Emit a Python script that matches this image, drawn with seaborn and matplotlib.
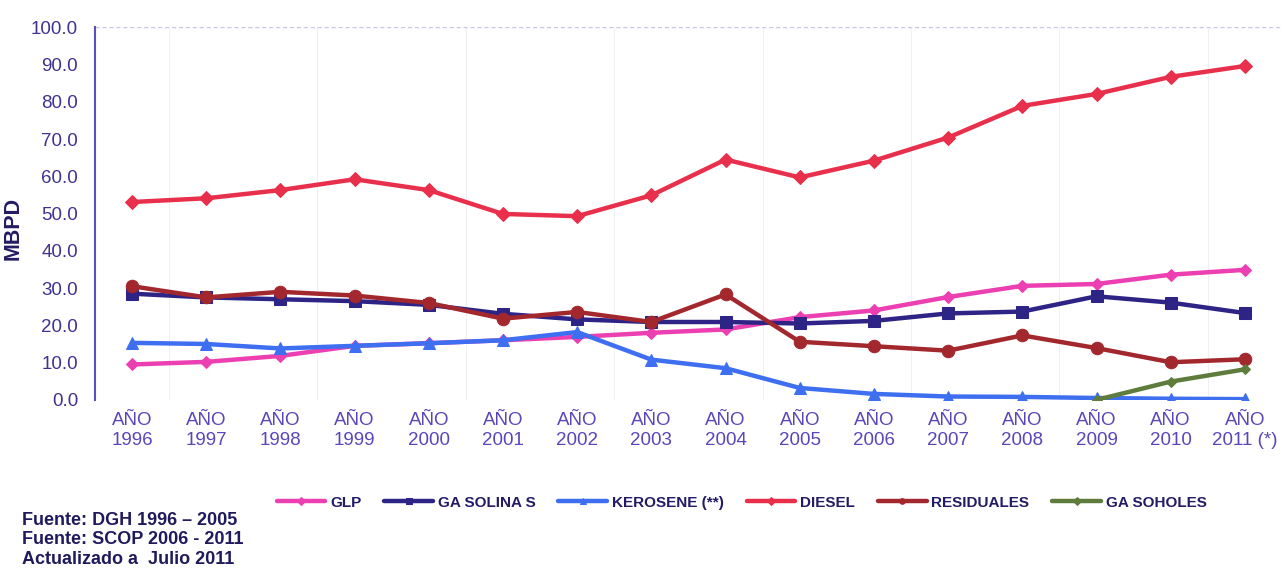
import numpy as np
import pandas as pd
import matplotlib
matplotlib.use("Agg")
import matplotlib.pyplot as plt
import seaborn as sns

years = ["1996", "1997", "1998", "1999", "2000", "2001", "2002", "2003",
         "2004", "2005", "2006", "2007", "2008", "2009", "2010", "2011 (*)"]
x_labels = ["AÑO\n" + y for y in years]

glp = [9.5, 10.2, 11.8, 14.5, 15.2, 16.0, 16.9, 18.0, 18.9, 22.2, 24.0, 27.6, 30.6, 31.1, 33.6, 34.9]
gasolinas = [28.5, 27.5, 27.0, 26.5, 25.5, 23.1, 21.6, 20.9, 20.9, 20.5, 21.2, 23.2, 23.7, 27.8, 26.1, 23.3]
kerosene = [15.3, 15.0, 13.8, 14.5, 15.2, 16.0, 18.2, 10.8, 8.5, 3.2, 1.6, 0.9, 0.8, 0.5, 0.3, 0.2]
diesel = [53.1, 54.1, 56.3, 59.2, 56.3, 49.9, 49.3, 54.9, 64.5, 59.7, 64.2, 70.4, 78.9, 82.1, 86.7, 89.6]
residuales = [30.5, 27.5, 29.0, 28.0, 26.0, 21.8, 23.6, 20.9, 28.3, 15.6, 14.4, 13.2, 17.3, 13.9, 10.1, 10.9]
gasoholes = [None] * 13 + [0.0, 4.9, 8.2]

series_names = ["GLP", "GA SOLINA S", "KEROSENE (**)", "DIESEL", "RESIDUALES", "GA SOHOLES"]
series_vals = [glp, gasolinas, kerosene, diesel, residuales, gasoholes]
colors = ["#ec3fb2", "#2e2486", "#3d6ff0", "#e8304c", "#a3282e", "#5e7d3c"]
markers = ["D", "s", "^", "D", "o", "D"]
msizes = [6, 9, 8, 7, 9, 5]

rows = []
for name, vals in zip(series_names, series_vals):
    for i, v in enumerate(vals):
        if v is not None:
            rows.append({"idx": i, "serie": name, "val": v})
df = pd.DataFrame(rows)

sns.set_theme(style="white")
plt.rcParams["font.family"] = ["Liberation Sans", "DejaVu Sans"]

fig = plt.figure(figsize=(12.82, 5.68), dpi=100)
ax = fig.add_axes([0.074, 0.296, 0.926, 0.656])

txt_col = "#3f3392"
for name, col, mk, ms in zip(series_names, colors, markers, msizes):
    sub = df[df["serie"] == name]
    sns.lineplot(data=sub, x="idx", y="val", ax=ax, color=col, marker=mk,
                 markersize=ms, linewidth=3.2, markeredgecolor=col,
                 label=name, legend=False)

ax.set_xlim(-0.5, 15.5)
ax.set_ylim(0, 100)
ax.set_yticks(np.arange(0, 101, 10))
ax.set_yticklabels([f"{v:.1f}" for v in np.arange(0, 101, 10)],
                   fontsize=13.5, color=txt_col)
ax.set_xticks(range(16))
ax.set_xticklabels(x_labels, fontsize=13.5, color="#5a46b8", linespacing=1.2)
ax.set_xticks(np.arange(0.5, 15.5, 1), minor=True)
ax.tick_params(axis="x", which="major", length=0, pad=9)
ax.tick_params(axis="x", which="minor", length=4, width=1.2, color="#333333",
               direction="out")
ax.tick_params(axis="y", length=4, width=1, color="#5a4fc0", direction="out", pad=8)
ax.set_xlabel("")
ax.set_ylabel("MBPD", fontsize=15.5, fontweight="bold", color="#241c63", labelpad=3)
ax.yaxis.set_label_coords(-0.06, 0.46)

for s in ["top", "right", "bottom"]:
    ax.spines[s].set_visible(False)
ax.spines["left"].set_color("#5a4fc0")
ax.spines["left"].set_linewidth(1.5)
ax.axhline(100, color="#c8c4ea", lw=1, ls=(0, (3, 2)))
for xv in np.arange(0.5, 15.5, 2):
    ax.axvline(xv, color="#f0f0f4", lw=0.8, zorder=0)

handles, labels = ax.get_legend_handles_labels()
leg = fig.legend(handles, labels, loc="center left", bbox_to_anchor=(0.205, 0.115),
                 ncol=6, frameon=False, handlelength=3.2, columnspacing=1.5,
                 handletextpad=0.3, prop={"weight": "bold", "size": 11})
for h in leg.legend_handles:
    h.set_markersize(4)
for t in leg.get_texts():
    t.set_color("#231b66")

foot = "Fuente: DGH 1996 – 2005\nFuente: SCOP 2006 - 2011\nActualizado a  Julio 2011"
fig.text(0.017, 0.0, foot, fontsize=13, fontweight="bold", color="#1f1a5c",
         ha="left", va="bottom", linespacing=1.2)

fig.savefig("out.png", dpi=100)
